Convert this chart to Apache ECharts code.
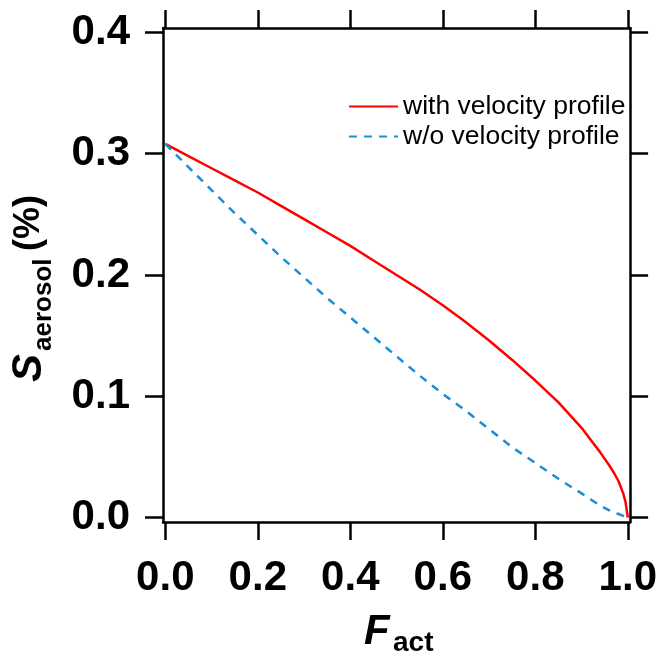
<!DOCTYPE html>
<html>
<head>
<meta charset="utf-8">
<script src="https://cdn.jsdelivr.net/npm/echarts@6/dist/echarts.min.js"></script>
<style>
  html, body { margin: 0; padding: 0; background: #fff; }
  #chart { width: 660px; height: 659px; }
</style>
</head>
<body>
<div id="chart"></div>
<script>
// F_act values (x) and supersaturation (%)
const fAct = [0, 0.05, 0.1, 0.15, 0.2, 0.25, 0.3, 0.35, 0.4, 0.45, 0.5, 0.55, 0.6,
  0.65, 0.7, 0.75, 0.8, 0.85, 0.9, 0.92, 0.94, 0.96, 0.97, 0.98, 0.99, 0.995, 1.0];
const withProfile = [0.308, 0.298, 0.288, 0.278, 0.268, 0.257, 0.246, 0.235, 0.224,
  0.212, 0.200, 0.188, 0.175, 0.161, 0.146, 0.130, 0.113, 0.095, 0.074, 0.064,
  0.054, 0.043, 0.037, 0.030, 0.020, 0.013, 0.0];
const withoutProfile = [0.308, 0.289, 0.270, 0.251, 0.233, 0.215, 0.198, 0.181, 0.165,
  0.149, 0.133, 0.117, 0.102, 0.088, 0.073, 0.058, 0.045, 0.032, 0.020, 0.015,
  0.010, 0.006, 0.0045, 0.003, 0.0015, 0.0007, 0.0];
const xTicks = [0, 0.2, 0.4, 0.6, 0.8, 1.0];
const yTicks = [0, 0.1, 0.2, 0.3, 0.4];
const seriesNames = ["with velocity profile", "w/o velocity profile"];

const chart = echarts.init(document.getElementById("chart"));

const font = "Liberation Sans";
const axisBase = {
  type: "value",
  axisLine: { show: true, onZero: false, lineStyle: { color: "#000", width: 2.5 } },
  axisTick: { show: true, inside: false, length: 18, lineStyle: { color: "#000", width: 2.5 } },
  splitLine: { show: false },
};

function pairs(ys) {
  return fAct.map((x, i) => [x, ys[i]]);
}

chart.setOption({
  animation: false,
  grid: { left: 163, right: 26, top: 28, bottom: 137 },
  legend: {
    orient: "vertical",
    left: 343,
    top: 88,
    itemWidth: 49,
    itemHeight: 10,
    itemGap: 3,
    itemStyle: { opacity: 0 },
    textStyle: { fontFamily: font, fontSize: 26.5, color: "#000" },
    data: seriesNames,
  },
  xAxis: [
    Object.assign({}, axisBase, {
      position: "bottom",
      min: -0.005,
      max: 1.005,
      axisTick: Object.assign({}, axisBase.axisTick, { customValues: xTicks }),
      axisLabel: {
        customValues: xTicks,
        margin: 35,
        fontFamily: font,
        fontSize: 42,
        fontWeight: "bold",
        color: "#000",
        formatter: (v) => v.toFixed(1),
      },
    }),
    Object.assign({}, axisBase, {
      position: "top",
      min: -0.005,
      max: 1.005,
      axisTick: Object.assign({}, axisBase.axisTick, { customValues: xTicks }),
      axisLabel: { show: false },
    }),
  ],
  yAxis: [
    Object.assign({}, axisBase, {
      position: "left",
      min: -0.0036,
      max: 0.4036,
      axisTick: Object.assign({}, axisBase.axisTick, { customValues: yTicks }),
      axisLabel: {
        customValues: yTicks,
        margin: 33,
        fontFamily: font,
        fontSize: 42,
        fontWeight: "bold",
        color: "#000",
        formatter: (v) => v.toFixed(1),
      },
    }),
    Object.assign({}, axisBase, {
      position: "right",
      min: -0.0036,
      max: 0.4036,
      axisTick: Object.assign({}, axisBase.axisTick, { customValues: yTicks }),
      axisLabel: { show: false },
    }),
  ],
  series: [
    {
      name: seriesNames[0],
      type: "line",
      data: pairs(withProfile),
      showSymbol: false,
      symbol: "none",
      lineStyle: { color: "#ff0000", width: 2.5, join: "round" },
      itemStyle: { color: "#ff0000" },
    },
    {
      name: seriesNames[1],
      type: "line",
      data: pairs(withoutProfile),
      showSymbol: false,
      symbol: "none",
      lineStyle: { color: "#1a8fd2", width: 2.5, type: [8, 7] },
      itemStyle: { color: "#1a8fd2" },
    },
  ],
  graphic: [
    {
      type: "text",
      x: 364,
      y: 632,
      style: { text: "F", font: "italic bold 42px " + font, fill: "#000", textAlign: "left", textVerticalAlign: "middle" },
    },
    {
      type: "text",
      x: 393,
      y: 643,
      style: { text: "act", font: "bold 28px " + font, fill: "#000", textAlign: "left", textVerticalAlign: "middle" },
    },
    {
      type: "group",
      x: 29,
      y: 382,
      rotation: Math.PI / 2,
      children: [
        {
          type: "text",
          x: 0,
          y: 0,
          style: { text: "S", font: "italic bold 42px " + font, fill: "#000", textAlign: "left", textVerticalAlign: "middle" },
        },
        {
          type: "text",
          x: 31,
          y: 15,
          style: { text: "aerosol", font: "bold 26px " + font, fill: "#000", textAlign: "left", textVerticalAlign: "middle" },
        },
        {
          type: "text",
          x: 131,
          y: 0,
          style: { text: "(%)", font: "bold 36px " + font, fill: "#000", textAlign: "left", textVerticalAlign: "middle" },
        },
      ],
    },
  ],
});
</script>
</body>
</html>
